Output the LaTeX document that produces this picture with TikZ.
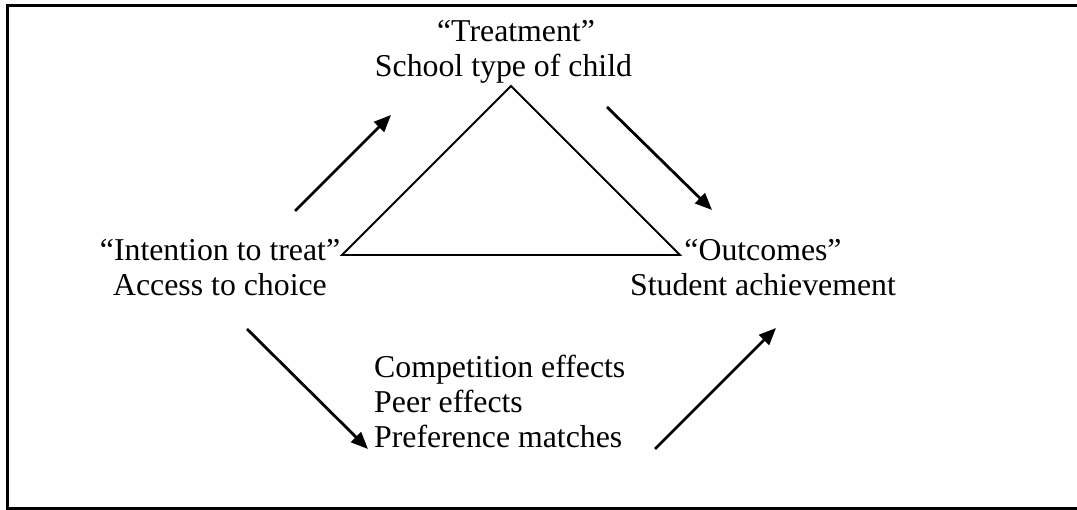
\documentclass[tikz,border=0pt]{standalone}
\usepackage{fontspec}
\setmainfont{Liberation Serif}
\usetikzlibrary{arrows.meta}
\begin{document}
\begin{tikzpicture}[x=1pt,y=-1pt,
  lbl/.style={inner sep=0pt, font=\fontsize{31.8}{35}\selectfont},
  tri/.style={line width=1.8pt, line join=miter},
  arr/.style={line width=2.8pt, -{Triangle[length=17pt,width=14pt]}},
  frame/.style={line width=3pt}]
\useasboundingbox (0,0) rectangle (1077,510);
% frame (no right side visible)
\draw[frame] (1080,6) -- (7,6) -- (7,508.5) -- (1080,508.5);
% labels
\node[lbl, anchor=base] (treat) at (503.5,42)
  {\begin{tabular}[t]{@{}c@{}}\hspace*{25pt}“Treatment”\\ School type of child\end{tabular}};
\node[lbl, anchor=base] (intent) at (220,261)
  {\begin{tabular}[t]{@{}c@{}}“Intention to treat”\\ Access to choice\end{tabular}};
\node[lbl, anchor=base] (outc) at (763,261)
  {\begin{tabular}[t]{@{}c@{}}“Outcomes”\\ Student achievement\end{tabular}};
\node[lbl, anchor=base west] (eff) at (374,378)
  {\begin{tabular}[t]{@{}l@{}}Competition effects\\ Peer effects\\ Preference matches\end{tabular}};
% triangle
\coordinate (apex) at (511,86);
\coordinate (tl) at (342,255);
\coordinate (tr) at (680,255);
\draw[tri] (tl) -- (apex) -- (tr) -- cycle;
% arrows
\coordinate (a1s) at (295,211); \coordinate (a1e) at (391,115);
\coordinate (a2s) at (607,107); \coordinate (a2e) at (712,210);
\coordinate (a3s) at (247,329); \coordinate (a3e) at (368,449);
\coordinate (a4s) at (655,449); \coordinate (a4e) at (776,328);
\draw[arr] (a1s) -- (a1e);
\draw[arr] (a2s) -- (a2e);
\draw[arr] (a3s) -- (a3e);
\draw[arr] (a4s) -- (a4e);
\end{tikzpicture}
\end{document}
